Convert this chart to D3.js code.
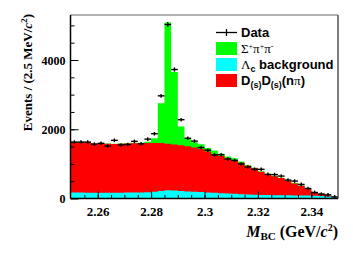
<!DOCTYPE html>
<html><head><meta charset="utf-8">
<script src="https://cdn.jsdelivr.net/npm/d3@7"></script>
<style>body{margin:0;background:#fff}svg{display:block}</style>
</head><body><svg id="c" width="353" height="254"></svg>
<script>
// ---- data ----
const binLow = [2.25,2.2525,2.255,2.2575,2.26,2.2625,2.265,2.2675,2.27,2.2725,
  2.275,2.2775,2.28,2.2825,2.285,2.2875,2.29,2.2925,2.295,2.2975,
  2.3,2.3025,2.305,2.3075,2.31,2.3125,2.315,2.3175,2.32,2.3225,
  2.325,2.3275,2.33,2.3325,2.335,2.3375,2.34,2.3425,2.345,2.3475];
const binWidth = 0.0025;
const dataCounts = [1630,1630,1630,1570,1595,1515,1680,1545,1560,1650,
  1580,1715,1870,2965,5025,3725,2276,1740,1657,1471,
  1395,1259,1265,1142,1100,997,912,843,843,697,
  690,648,532,503,407,290,174,125,105,47];
const lambdaBkg = [170,170,168,168,166,166,165,168,170,172,
  175,180,195,215,240,230,215,205,195,185,
  175,165,155,145,135,125,118,110,104,100,
  96,94,92,90,88,86,80,70,55,35];
const dsdsBkg = [1455,1450,1447,1417,1414,1414,1410,1412,1420,1423,
  1425,1420,1405,1390,1340,1330,1325,1305,1275,1248,
  1185,1110,1075,1009,970,910,830,762,669,597,
  549,496,420,346,278,204,103,75,32,3];
const sigmaPiPi = [5,5,5,5,5,5,5,5,5,5,
  10,40,139,1145,3507,2091,541,205,158,132,
  100,110,60,61,55,35,12,18,17,13,
  15,10,8,9,6,5,2,2,1,1];
const xTicks = [2.26,2.28,2.3,2.32,2.34];
const xTickLabels = ["2.26","2.28","2.3","2.32","2.34"];
const yTicks = [0,2000,4000];
const yTickLabels = ["0","2000","4000"];

// ---- layout ----
const svg = d3.select("#c");
const serif = "'Liberation Serif', 'Times New Roman', serif";
const sans = "'Liberation Sans', Arial, sans-serif";
const L = 70.5, R = 338, T = 15, B = 198.5;
const x = d3.scaleLinear().domain([2.25, 2.35]).range([71, R]);
const y = d3.scaleLinear().domain([0, 5300]).range([B, T]);

const rows = binLow.map((lo, i) => ({lo, lambda: lambdaBkg[i], dsds: dsdsBkg[i], sigma: sigmaPiPi[i]}));
const keys = ["lambda", "dsds", "sigma"];
const colors = {lambda: "#00ffff", dsds: "#ff0000", sigma: "#00ff00"};
const stack = d3.stack().keys(keys)(rows);

stack.slice().reverse().forEach(layer => {
  const pts = layer.map(d => ({lo: d.data.lo, top: d[1]}));
  pts.push({lo: pts[pts.length - 1].lo + binWidth, top: pts[pts.length - 1].top});
  const area = d3.area().curve(d3.curveStepAfter)
    .x(d => x(d.lo)).y0(y(0)).y1(d => y(d.top));
  svg.append("path").attr("d", area(pts)).attr("fill", colors[layer.key]);
});

// data points
const g = svg.append("g").attr("stroke", "#000").attr("stroke-width", 1.4);
dataCounts.forEach((v, i) => {
  const x0 = x(binLow[i]), x1 = x(binLow[i] + binWidth), xc = (x0 + x1) / 2;
  const e = Math.sqrt(v);
  const ya = Math.min(y(v + e), y(v) - 1.8), yb = Math.max(y(v - e), y(v) + 1.8);
  g.append("line").attr("x1", x0).attr("x2", x1).attr("y1", y(v)).attr("y2", y(v));
  g.append("line").attr("x1", xc).attr("x2", xc).attr("y1", ya).attr("y2", yb);
});

// frame
svg.append("line").attr("x1", L).attr("x2", R).attr("y1", T).attr("y2", T).attr("stroke", "#999").attr("stroke-width", 1.5);
svg.append("line").attr("x1", R).attr("x2", R).attr("y1", T).attr("y2", B).attr("stroke", "#555").attr("stroke-width", 1.5);

// x axis
const xMinor = d3.range(2.255, 2.349, 0.005);
const xa = svg.append("g").attr("transform", `translate(0,${B})`)
  .call(d3.axisBottom(x).tickValues(xMinor).tickSize(-3.5).tickFormat(""));
xa.select(".domain").remove();
const xb = svg.append("g").attr("transform", `translate(0,${B})`)
  .call(d3.axisBottom(x).tickValues(xTicks).tickSize(-7).tickFormat((d, i) => xTickLabels[i]));
xb.select(".domain").remove();
xb.selectAll("text").attr("y", 17).attr("dy", 0)
  .style("font-family", serif).style("font-weight", "bold").style("font-size", "13px").style("fill", "#000");
svg.append("line").attr("x1", L).attr("x2", R).attr("y1", B).attr("y2", B).attr("stroke", "#000").attr("stroke-width", 1.5);

// y axis
const yMinor = d3.range(500, 5300, 500);
const ya = svg.append("g").attr("transform", `translate(${L},0)`)
  .call(d3.axisLeft(y).tickValues(yMinor).tickSize(-4).tickFormat(""));
ya.select(".domain").remove();
const yb = svg.append("g").attr("transform", `translate(${L},0)`)
  .call(d3.axisLeft(y).tickValues(yTicks).tickSize(-8).tickFormat((d, i) => yTickLabels[i]));
yb.select(".domain").remove();
yb.selectAll("text").attr("x", -5).attr("dy", "0.35em")
  .style("font-family", serif).style("font-weight", "bold").style("font-size", "12px").style("fill", "#000");
svg.append("line").attr("x1", L).attr("x2", L).attr("y1", T).attr("y2", B).attr("stroke", "#000").attr("stroke-width", 1.5);

// axis titles
const yt = svg.append("text").attr("transform", "translate(32,14) rotate(-90)")
  .attr("text-anchor", "end").style("font-family", serif).style("font-weight", "bold").style("font-size", "13px");
yt.append("tspan").text("Events / (2.5 MeV/");
yt.append("tspan").style("font-style", "italic").text("c");
yt.append("tspan").style("font-size", "9px").attr("dy", -5).text("2");
yt.append("tspan").attr("dy", 5).text(")");

const xt = svg.append("text").attr("x", R).attr("y", 237)
  .attr("text-anchor", "end").style("font-family", serif).style("font-weight", "bold").style("font-size", "16px");
xt.append("tspan").style("font-style", "italic").text("M");
xt.append("tspan").style("font-size", "11px").attr("dy", 3).text("BC");
xt.append("tspan").attr("dy", -3).text(" (GeV/");
xt.append("tspan").style("font-style", "italic").text("c");
xt.append("tspan").style("font-size", "10px").attr("dy", -6).text("2");
xt.append("tspan").attr("dy", 6).text(")");

// legend
const lx0 = 216, lx1 = 237, tx = 241;
const legendRows = [
  {type: "data", y: 32.5},
  {type: "box", key: "sigma", y: 48.5},
  {type: "box", key: "lambda", y: 64.5},
  {type: "box", key: "dsds", y: 80.5}
];
legendRows.forEach(r => {
  if (r.type === "data") {
    svg.append("line").attr("x1", lx0).attr("x2", lx1).attr("y1", r.y).attr("y2", r.y).attr("stroke", "#000").attr("stroke-width", 1.3);
    svg.append("line").attr("x1", (lx0 + lx1) / 2).attr("x2", (lx0 + lx1) / 2).attr("y1", r.y - 3.5).attr("y2", r.y + 3.5).attr("stroke", "#000").attr("stroke-width", 1.3);
  } else {
    svg.append("rect").attr("x", lx0).attr("y", r.y - 6.5).attr("width", lx1 - lx0).attr("height", 13).attr("fill", colors[r.key]);
  }
});
svg.append("text").attr("x", tx).attr("y", 32.5).attr("dy", "0.36em")
  .style("font-family", sans).style("font-weight", "bold").style("font-size", "13px").text("Data");
const t1 = svg.append("text").attr("x", tx).attr("y", 48.5).attr("dy", "0.36em")
  .style("font-family", serif).style("font-size", "13px");
t1.append("tspan").text("Σ");
t1.append("tspan").style("font-size", "8px").attr("dy", -4).text("+");
t1.append("tspan").attr("dy", 4).text("π");
t1.append("tspan").style("font-size", "8px").attr("dy", -4).text("+");
t1.append("tspan").attr("dy", 4).text("π");
t1.append("tspan").style("font-size", "8px").attr("dy", -4).text("-");
const t2 = svg.append("text").attr("x", tx).attr("y", 64.5).attr("dy", "0.36em")
  .style("font-family", sans).style("font-weight", "bold").style("font-size", "13px");
t2.append("tspan").style("font-family", serif).style("font-weight", "normal").text("Λ");
t2.append("tspan").style("font-size", "9px").attr("dy", 3).text("c");
t2.append("tspan").attr("dy", -3).text(" background");
const t3 = svg.append("text").attr("x", tx).attr("y", 80.5).attr("dy", "0.36em")
  .style("font-family", sans).style("font-weight", "bold").style("font-size", "13px");
t3.append("tspan").text("D");
t3.append("tspan").style("font-size", "9px").attr("dy", 3).text("(s)");
t3.append("tspan").attr("dy", -3).text("D");
t3.append("tspan").style("font-size", "9px").attr("dy", 3).text("(s)");
t3.append("tspan").attr("dy", -3).text("(n");
t3.append("tspan").style("font-family", serif).style("font-weight", "normal").text("π");
t3.append("tspan").text(")");
</script>
</body></html>
